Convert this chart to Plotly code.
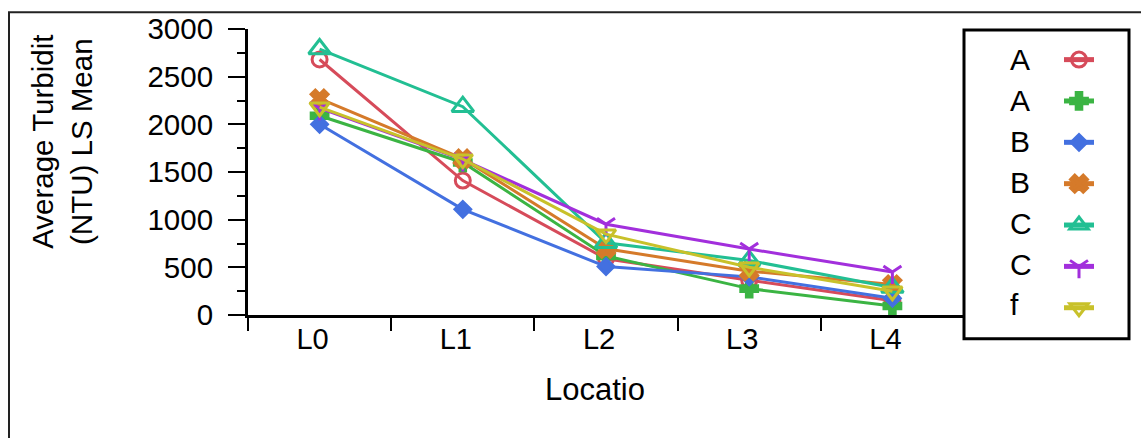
import plotly.graph_objects as go

categories = ["L0", "L1", "L2", "L3", "L4"]
series_names = ["A", "A", "B", "B", "C", "C", "f"]
vals_A1 = [2680, 1410, 590, 365, 150]
vals_A2 = [2090, 1600, 620, 277, 95]
vals_B1 = [2000, 1108, 508, 400, 175]
vals_B2 = [2270, 1640, 695, 460, 320]
vals_C1 = [2790, 2185, 758, 572, 288]
vals_C2 = [2170, 1630, 952, 692, 450]
vals_f = [2180, 1635, 848, 500, 250]
y_ticks = [0, 500, 1000, 1500, 2000, 2500, 3000]

all_vals = [vals_A1, vals_A2, vals_B1, vals_B2, vals_C1, vals_C2, vals_f]
colors = ["#d64b5a", "#3bb443", "#4370e0", "#d57a2a", "#22bf93", "#a22fdc", "#c8c12a"]
symbols = ["circle-open", "cross", "diamond", "x", "triangle-up-open", "y-down-open", "triangle-down-open"]
sizes = [15, 14, 12, 15, 19, 15, 17]

W, H = 1141, 438
L, R, T, B = 248, 177, 26, 123
PW, PH = W - L - R, H - T - B

def px(x):
    return (x - L) / PW

def py(y):
    return (H - B - y) / PH

fig = go.Figure()
for i, (name, vals, c, s, sz) in enumerate(zip(series_names, all_vals, colors, symbols, sizes)):
    fig.add_trace(go.Scatter(
        x=categories, y=vals, name=name, mode="lines+markers",
        legendgroup="g%d" % i, showlegend=False,
        line=dict(color=c, width=3),
        marker=dict(symbol=s, size=sz, color=c, line=dict(color=c, width=3)),
    ))
# legend glyphs (no data points, only for the key)
for i, (name, c, s, sz) in enumerate(zip(series_names, colors, symbols, sizes)):
    fig.add_trace(go.Scatter(
        x=[None], y=[None], name=name, mode="lines+markers",
        legendgroup="g%d" % i, showlegend=True,
        line=dict(color=c, width=5),
        marker=dict(symbol=s, size=sz, color=c, line=dict(color=c, width=3)),
    ))

font = "Liberation Sans, Arial, sans-serif"
annotations = [
    dict(text="Average Turbidit<br>(NTU) LS Mean", x=px(62), y=py(140), xref="paper", yref="paper",
         textangle=-90, showarrow=False, xanchor="center", yanchor="middle",
         font=dict(size=29.5, color="black", family=font)),
    dict(text="Locatio", x=px(595), y=py(390), xref="paper", yref="paper",
         showarrow=False, xanchor="center", yanchor="middle",
         font=dict(size=31, color="black", family=font)),
]
for i, name in enumerate(series_names):
    annotations.append(dict(text=name, x=px(1008), y=py(57 + 41.3 * i), xref="paper", yref="paper",
                            showarrow=False, xanchor="left", yanchor="middle",
                            font=dict(size=30, color="black", family=font)))

shapes = [
    dict(type="rect", xref="paper", yref="paper", x0=px(9), x1=px(1400), y0=py(600), y1=py(9),
         line=dict(color="#222", width=2), fillcolor="rgba(0,0,0,0)", layer="below"),
    dict(type="rect", xref="paper", yref="paper", x0=px(964), x1=px(1129), y0=py(339), y1=py(27),
         line=dict(color="black", width=3), fillcolor="rgba(0,0,0,0)"),
]

fig.update_layout(
    width=W, height=H, autosize=False,
    margin=dict(l=L, r=R, t=T, b=B, pad=0),
    paper_bgcolor="white", plot_bgcolor="white",
    font=dict(family=font, color="black"),
    showlegend=True,
    legend=dict(x=px(1059), y=py(31), xanchor="left", yanchor="top",
                font=dict(size=29.5, color="rgba(0,0,0,0)", family=font),
                bgcolor="rgba(0,0,0,0)", borderwidth=0, tracegroupgap=0),
    annotations=annotations,
    shapes=shapes,
    xaxis=dict(type="category", categoryorder="array", categoryarray=categories,
               range=[-0.5, 4.5], showline=True, linecolor="black", linewidth=3,
               ticks="outside", ticklen=13, tickwidth=2, tickcolor="black", tickson="boundaries",
               showgrid=False, zeroline=False, tickfont=dict(size=29, family=font, color="black")),
    yaxis=dict(range=[0, 3000], tickvals=y_ticks, showline=True, linecolor="black", linewidth=3,
               ticks="outside", ticklen=17, tickwidth=2, tickcolor="black",
               minor=dict(dtick=250, ticks="outside", ticklen=8, tickwidth=2, tickcolor="black"),
               showgrid=False, zeroline=False, tickfont=dict(size=29.5, family=font, color="black")),
)

for key, val in [("legend_maxheight", 420), ("yaxis_ticklabelstandoff", 9),
                 ("xaxis_ticklabelstandoff", -4), ("xaxis_ticklabelshift", -7)]:
    try:
        fig.update_layout(**{key: val})
    except Exception:
        pass

fig.write_html("out.html")
